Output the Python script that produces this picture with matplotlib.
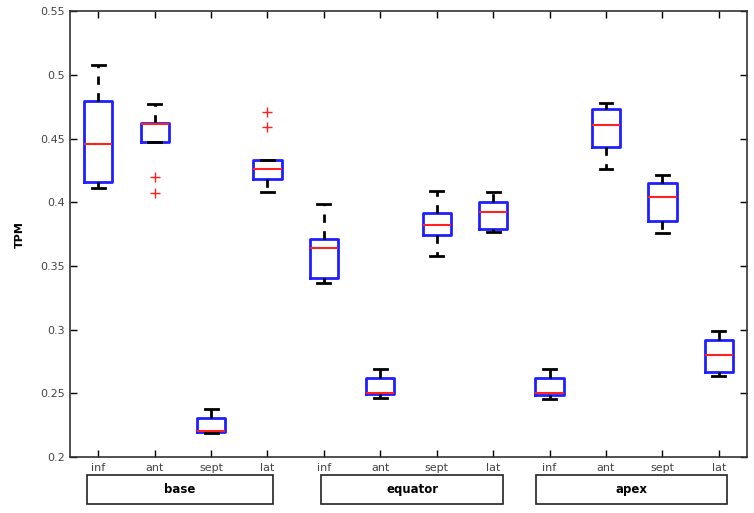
import matplotlib
matplotlib.use('Agg')
import matplotlib.pyplot as plt
import matplotlib.transforms as mtransforms
from matplotlib.patches import Rectangle

# box statistics (base / equator / apex x inf, ant, sept, lat)
sites = ['inf', 'ant', 'sept', 'lat'] * 3
regions = ['base', 'equator', 'apex']
whislo = [0.411, 0.4472, 0.219, 0.4082, 0.3363, 0.246, 0.3577, 0.3763, 0.2455, 0.4257, 0.376, 0.2637]
q1 = [0.4158, 0.4472, 0.2193, 0.4179, 0.3407, 0.2494, 0.374, 0.3786, 0.2488, 0.4435, 0.3854, 0.2666]
med = [0.4456, 0.461, 0.2206, 0.4262, 0.364, 0.2504, 0.382, 0.392, 0.2504, 0.4608, 0.4038, 0.2805]
q3 = [0.4794, 0.4621, 0.231, 0.4328, 0.371, 0.2617, 0.3912, 0.4001, 0.2617, 0.4728, 0.4148, 0.2915]
whishi = [0.5076, 0.477, 0.2376, 0.4328, 0.3985, 0.269, 0.409, 0.4082, 0.2688, 0.478, 0.4213, 0.2988]
fliers = [[], [0.4197, 0.4071], [], [0.471, 0.4592], [], [], [], [], [], [], [], []]

stats = []
for i in range(12):
    stats.append({'whislo': whislo[i], 'q1': q1[i], 'med': med[i], 'q3': q3[i],
                  'whishi': whishi[i], 'fliers': fliers[i]})

fig = plt.figure(figsize=(7.54, 5.13), dpi=100)
ax = fig.add_axes([0.0928, 0.109, 0.898, 0.8694])

pos = list(range(1, 13))
ax.bxp(stats, positions=pos, widths=0.5, showfliers=True,
       boxprops=dict(color='#1f1fff', linewidth=2),
       medianprops=dict(color='#ff2020', linewidth=1.5),
       whiskerprops=dict(color='black', linewidth=2, linestyle=(0, (3, 3))),
       capprops=dict(color='black', linewidth=2),
       flierprops=dict(marker='+', markeredgecolor='#ff2020', markersize=7,
                       markeredgewidth=1, linestyle='none'),
       capwidths=0.23)

ax.set_xlim(0.5, 12.5)
ax.set_ylim(0.2, 0.55)
ax.set_xticks(pos)
ax.set_xticklabels(sites)
ax.set_yticks([0.2, 0.25, 0.3, 0.35, 0.4, 0.45, 0.5, 0.55])
ax.set_yticklabels(['0.2', '0.25', '0.3', '0.35', '0.4', '0.45', '0.5', '0.55'])
ax.tick_params(direction='in', top=True, right=True, length=5, width=1,
               labelsize=8, labelcolor='#444444')
ax.tick_params(axis='x', pad=4)
for s in ax.spines.values():
    s.set_linewidth(1.2)
    s.set_color('#333333')
ax.set_ylabel('TPM', fontsize=8, fontweight='bold', labelpad=11)

# region label boxes under the axis
trans = mtransforms.blended_transform_factory(ax.transData, ax.transAxes)
spans = [(0.80, 4.10), (4.95, 8.18), (8.76, 12.15)]
for (x0, x1), name in zip(spans, regions):
    ax.add_patch(Rectangle((x0, -0.105), x1 - x0, 0.065, transform=trans,
                           fill=False, edgecolor='#222222', linewidth=1.2, clip_on=False))
    ax.text((x0 + x1) / 2, -0.0725, name, transform=trans, ha='center', va='center',
            fontsize=8.5, fontweight='bold')

fig.savefig('out.png', dpi=100, facecolor='white')
